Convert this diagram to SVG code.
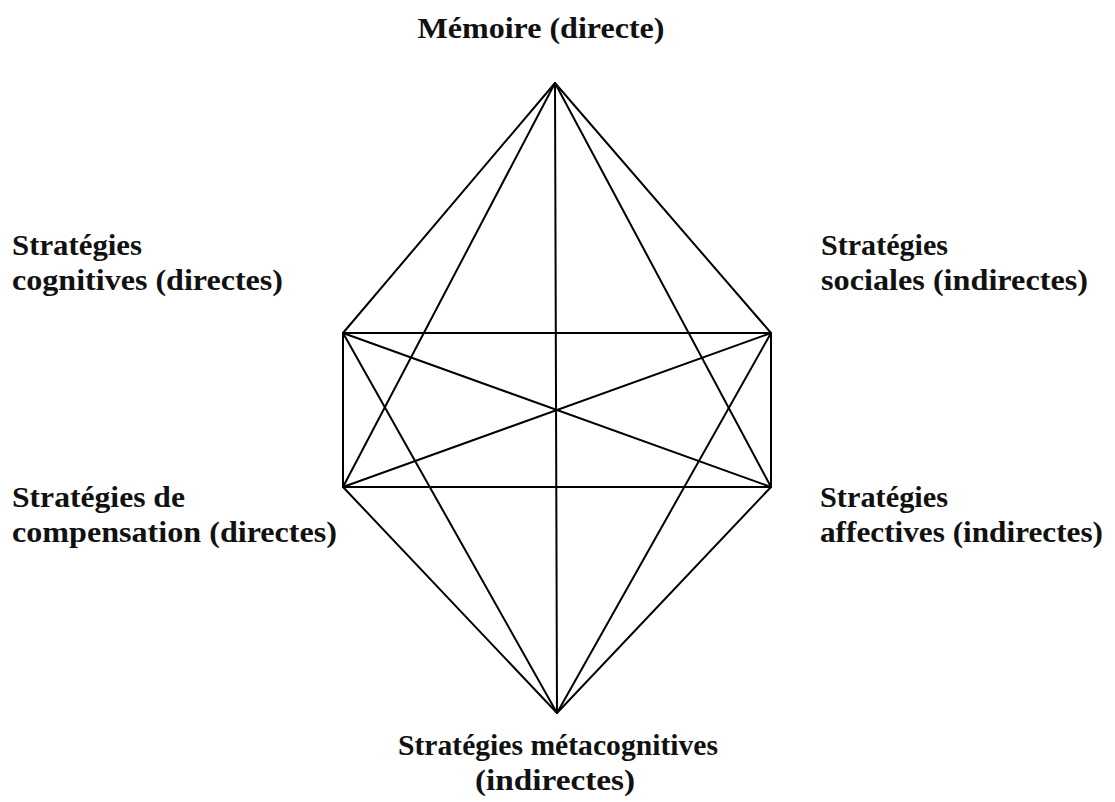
<svg xmlns="http://www.w3.org/2000/svg" width="1115" height="802" viewBox="0 0 1115 802">
<style>
text{font-family:"Liberation Serif","DejaVu Serif",serif;font-weight:bold;font-size:30px;fill:#111}
.e line{stroke:#000;stroke-width:2;stroke-linecap:round}
</style>
<rect width="1115" height="802" fill="#fff"/>
<g class="e" id="connectors">
<line x1="555" y1="83" x2="343" y2="333"/>
<line x1="555" y1="83" x2="771" y2="333"/>
<line x1="555" y1="83" x2="343" y2="487"/>
<line x1="555" y1="83" x2="771" y2="487"/>
<line x1="555" y1="83" x2="557" y2="713"/>
<line x1="557" y1="713" x2="343" y2="487"/>
<line x1="557" y1="713" x2="771" y2="487"/>
<line x1="557" y1="713" x2="343" y2="333"/>
<line x1="557" y1="713" x2="771" y2="333"/>
<line x1="343" y1="333" x2="771" y2="333"/>
<line x1="343" y1="487" x2="771" y2="487"/>
<line x1="343" y1="333" x2="343" y2="487"/>
<line x1="771" y1="333" x2="771" y2="487"/>
<line x1="343" y1="333" x2="771" y2="487"/>
<line x1="771" y1="333" x2="343" y2="487"/>
</g>
<g id="memoire"><text x="541" y="38" text-anchor="middle" textLength="247" lengthAdjust="spacingAndGlyphs">Mémoire (directe)</text></g>
<g id="cognitives"><text x="12" y="255" textLength="130" lengthAdjust="spacingAndGlyphs">Stratégies</text><text x="12" y="290" textLength="271" lengthAdjust="spacingAndGlyphs">cognitives (directes)</text></g>
<g id="sociales"><text x="821" y="255" textLength="127" lengthAdjust="spacingAndGlyphs">Stratégies</text><text x="821" y="290" textLength="267" lengthAdjust="spacingAndGlyphs">sociales (indirectes)</text></g>
<g id="compensation"><text x="12" y="507" textLength="173" lengthAdjust="spacingAndGlyphs">Stratégies de</text><text x="12" y="542" textLength="325" lengthAdjust="spacingAndGlyphs">compensation (directes)</text></g>
<g id="affectives"><text x="820" y="507" textLength="128" lengthAdjust="spacingAndGlyphs">Stratégies</text><text x="820" y="542" textLength="283" lengthAdjust="spacingAndGlyphs">affectives (indirectes)</text></g>
<g id="metacognitives"><text x="558" y="755" text-anchor="middle" textLength="320" lengthAdjust="spacingAndGlyphs">Stratégies métacognitives</text><text x="555" y="790" text-anchor="middle" textLength="160" lengthAdjust="spacingAndGlyphs">(indirectes)</text></g>
</svg>
